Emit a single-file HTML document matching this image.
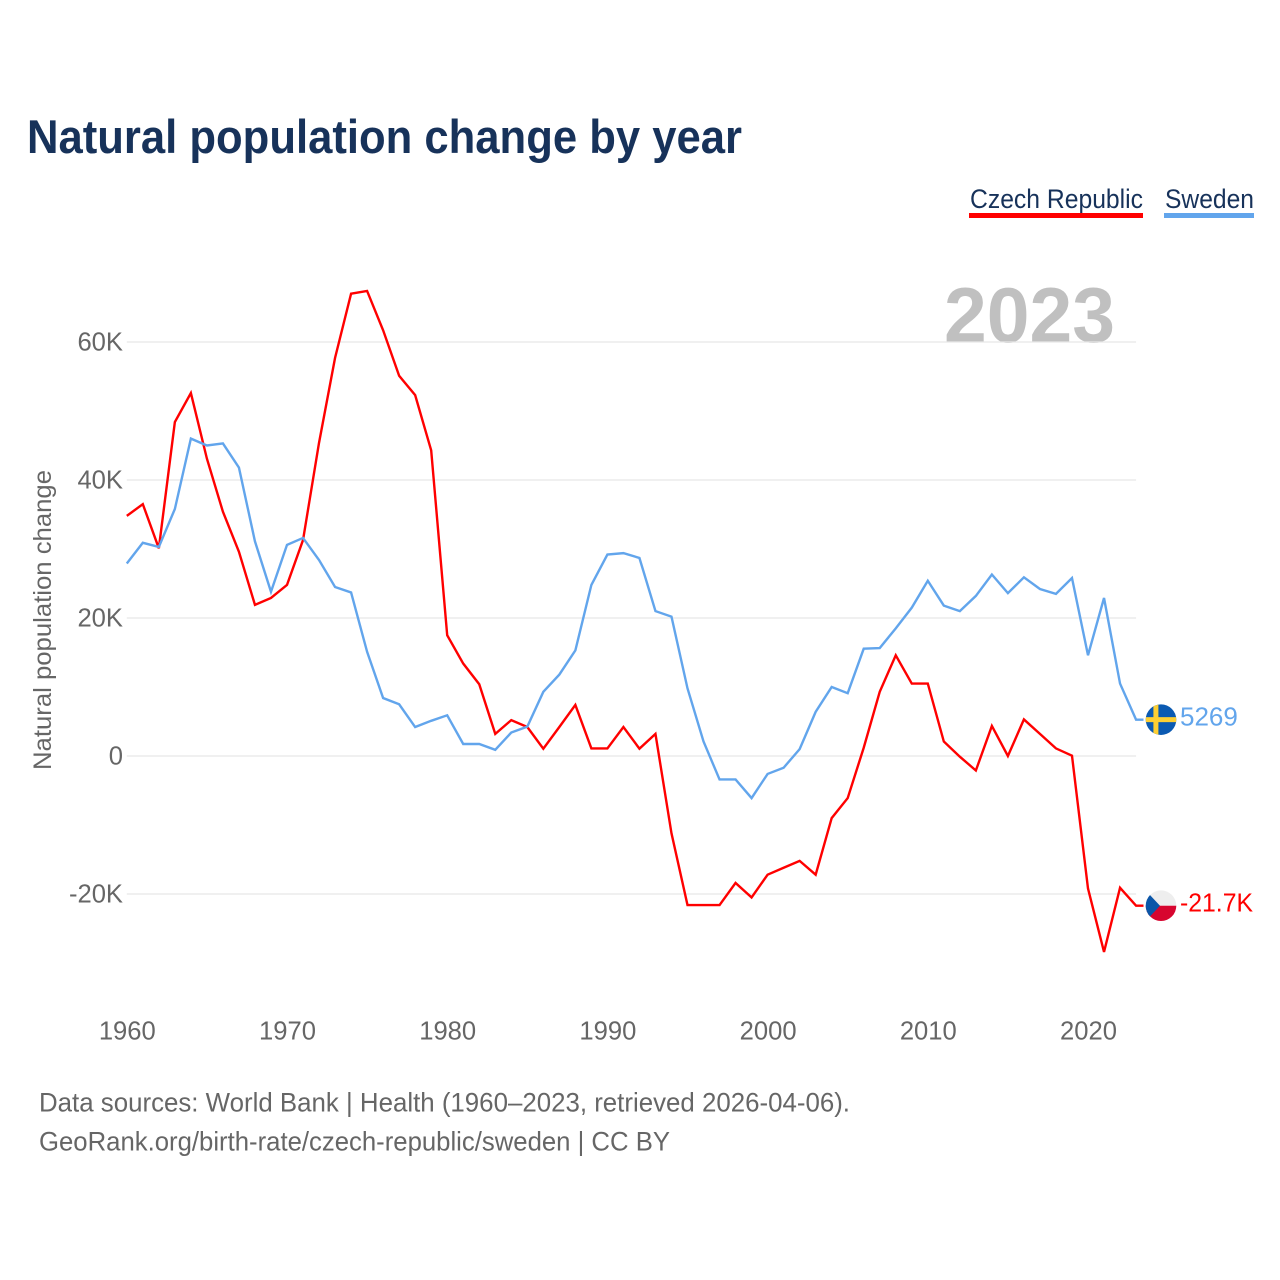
<!DOCTYPE html>
<html lang="en">
<head>
<meta charset="utf-8">
<title>Natural population change by year</title>
<style>
html,body{margin:0;padding:0;background:#fff;width:1280px;height:1280px;overflow:hidden}
svg{display:block}
text{font-family:"Liberation Sans",sans-serif}
</style>
</head>
<body>
<svg id="chart" xmlns="http://www.w3.org/2000/svg" width="1280" height="1280" viewBox="0 0 1280 1280">
  <defs>
    <clipPath id="clip-se"><circle cx="0" cy="0" r="15.3"></circle></clipPath>
    <clipPath id="clip-cz"><circle cx="0" cy="0" r="15.3"></circle></clipPath>
  </defs>
  <text x="27" y="153" font-size="47" font-weight="700" fill="#17325a" textLength="715" lengthAdjust="spacingAndGlyphs">Natural population change by year</text>

  <g>
    <text x="970" y="208" font-size="27" fill="#17325a" textLength="173" lengthAdjust="spacingAndGlyphs">Czech Republic</text>
    <rect x="969" y="213" width="174" height="5" fill="#ff0000"></rect>
  </g>
  <g>
    <text x="1165" y="208" font-size="27" fill="#17325a" textLength="89" lengthAdjust="spacingAndGlyphs">Sweden</text>
    <rect x="1164" y="213" width="90" height="5" fill="#62a5ec"></rect>
  </g>

  <text x="1115" y="342" font-size="78" font-weight="700" fill="#c0c0c0" text-anchor="end" textLength="171" lengthAdjust="spacingAndGlyphs">2023</text>

  <g id="grid"></g>
  <g id="yticks"></g>
  <g id="xticks"></g>
  <text transform="translate(51,770) rotate(-90)" font-size="25" fill="#666666" textLength="300" lengthAdjust="spacingAndGlyphs">Natural population change</text>
  <g id="series"></g>

  <g id="flag-se">
    <g clip-path="url(#clip-se)">
      <rect x="-16" y="-16" width="32" height="32" fill="#0b5ab2"></rect>
      <rect x="-7.6" y="-16" width="5" height="32" fill="#fdcf33"></rect>
      <rect x="-16" y="-2.5" width="32" height="5" fill="#fdcf33"></rect>
    </g>
  </g>
  <g id="flag-cz">
    <g clip-path="url(#clip-cz)">
      <rect x="-16" y="-16" width="32" height="16" fill="#eeeeee"></rect>
      <rect x="-16" y="0" width="32" height="16" fill="#d7052f"></rect>
      <polygon points="-16,-16 -1,0 -16,16" fill="#0b56a8"></polygon>
    </g>
  </g>
  <text id="end-label-se" x="1180" font-size="26" fill="#62a5ec"></text>
  <text id="end-label-cz" x="1180" font-size="26" fill="#ff0000" textLength="73" lengthAdjust="spacingAndGlyphs"></text>

  <text x="39" y="1111.5" font-size="27" fill="#666666" textLength="811" lengthAdjust="spacingAndGlyphs">Data sources: World Bank | Health (1960–2023, retrieved 2026-04-06).</text>
  <text x="39" y="1150.5" font-size="27" fill="#666666" textLength="631" lengthAdjust="spacingAndGlyphs">GeoRank.org/birth-rate/czech-republic/sweden | CC BY</text>
</svg>
<script>
const startYear = 1960;
const czechValues = [34800,36500,30100,48400,52600,43100,35400,29600,21900,22900,24800,31300,45400,57700,67000,67400,61700,55100,52300,44300,17500,13400,10400,3200,5200,4200,1060,4200,7400,1100,1100,4200,1060,3200,-11200,-21600,-21600,-21600,-18400,-20500,-17200,-16200,-15200,-17200,-9000,-6100,1200,9300,14600,10500,10500,2100,-100,-2100,4350,0,5300,3200,1100,50,-19200,-28400,-19100,-21700];
const swedenValues = [27900,30900,30300,35800,46000,45000,45300,41800,31100,23800,30600,31600,28400,24500,23700,15100,8400,7500,4200,5100,5900,1740,1740,900,3400,4250,9300,11800,15300,24800,29200,29400,28700,21000,20200,9800,2100,-3400,-3400,-6100,-2600,-1700,1000,6400,10000,9100,15550,15650,18500,21500,25400,21800,21000,23200,26300,23600,25900,24200,23500,25800,14600,22900,10500,5269];
const yTickValues = [60000,40000,20000,0,-20000];
const yTickLabels = ["60K","40K","20K","0","-20K"];
const xTickValues = [1960,1970,1980,1990,2000,2010,2020];
const endLabels = ["-21.7K","5269"];

const SVG_NS = "http://www.w3.org/2000/svg";
function xScale(year){ return 126.8 + (year - 1960) * 16.02; }
function yScale(v){ return 756 - v * 0.0069; }
const lastYear = startYear + czechValues.length - 1;

const grid = document.getElementById("grid");
const yticks = document.getElementById("yticks");
yTickValues.forEach(function(v, i){
  const line = document.createElementNS(SVG_NS, "line");
  
  
  line.setAttribute("x1", xScale(1960));
  line.setAttribute("x2", xScale(lastYear));
  line.setAttribute("y1", yScale(v));
  line.setAttribute("y2", yScale(v));
  line.setAttribute("stroke", "#e8e8e8");
  line.setAttribute("stroke-width", "1.3");
  grid.appendChild(line);
  const t = document.createElementNS(SVG_NS, "text");
  
  
  t.setAttribute("x", 123);
  t.setAttribute("y", yScale(v) + 8.5);
  t.setAttribute("text-anchor", "end");
  t.setAttribute("font-size", "25.6");
  t.setAttribute("fill", "#666666");
  t.textContent = yTickLabels[i];
  yticks.appendChild(t);
});

const xticks = document.getElementById("xticks");
xTickValues.forEach(function(year){
  const t = document.createElementNS(SVG_NS, "text");
  
  
  t.setAttribute("x", xScale(year) + 0.5);
  t.setAttribute("y", 1039.5);
  t.setAttribute("text-anchor", "middle");
  t.setAttribute("font-size", "25.6");
  t.setAttribute("fill", "#666666");
  t.textContent = String(year);
  xticks.appendChild(t);
});

function drawSeries(values, color, container){
  const pts = values.map(function(v, i){ return xScale(startYear + i) + "," + yScale(v); });
  const lastY = yScale(values[values.length - 1]);
  pts.push("1143.5," + lastY);
  const line = document.createElementNS(SVG_NS, "polyline");
  line.setAttribute("points", pts.join(" "));
  line.setAttribute("fill", "none");
  line.setAttribute("stroke", color);
  line.setAttribute("stroke-width", "2.4");
  container.appendChild(line);
  return line;
}
const series = document.getElementById("series");
const czechLine = drawSeries(czechValues, "#ff0000", series);


const swedenLine = drawSeries(swedenValues, "#62a5ec", series);



const czLastY = yScale(czechValues[czechValues.length - 1]);
const seLastY = yScale(swedenValues[swedenValues.length - 1]);
document.getElementById("flag-cz").setAttribute("transform", "translate(1161," + czLastY + ")");
document.getElementById("flag-se").setAttribute("transform", "translate(1161," + seLastY + ")");
const czLabel = document.getElementById("end-label-cz");
czLabel.setAttribute("y", czLastY + 6);
czLabel.textContent = endLabels[0];
const seLabel = document.getElementById("end-label-se");
seLabel.setAttribute("y", seLastY + 6);
seLabel.textContent = endLabels[1];
</script>
</body>
</html>
